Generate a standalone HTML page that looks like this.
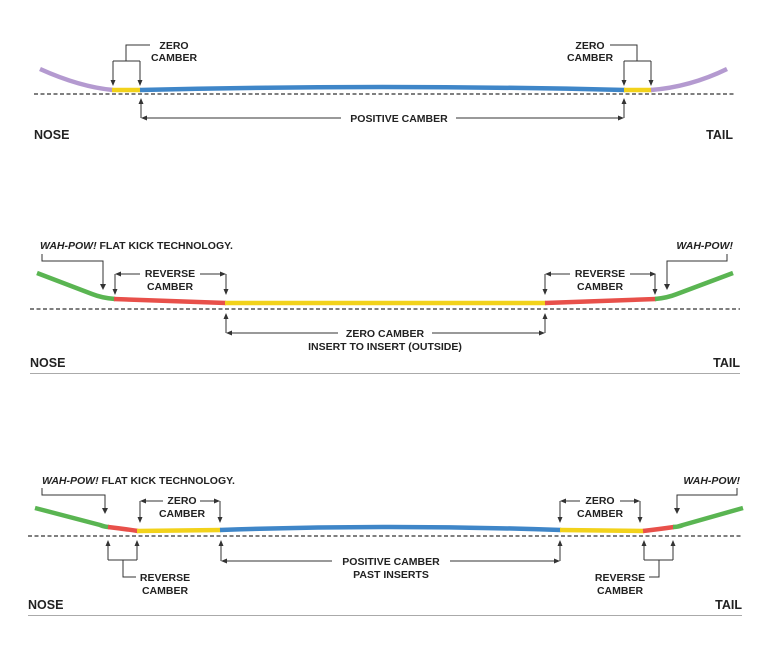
<!DOCTYPE html>
<html><head><meta charset="utf-8"><style>
html,body{margin:0;padding:0;background:#fff;}
svg{display:block;}
text{font-family:"Liberation Sans",sans-serif;font-weight:bold;font-size:10.5px;fill:#222;}
.big{font-size:12.5px;}
.ln{stroke:#333;stroke-width:1;fill:none;}
.dash{stroke:#333;stroke-width:1.3;stroke-dasharray:4,2.5;fill:none;}
.b{fill:none;stroke-width:4.5;stroke-linecap:butt;}
</style></head><body>
<svg width="777" height="648" viewBox="0 0 777 648">
<defs>
<marker id="a" markerWidth="6" markerHeight="6" refX="5" refY="3" orient="auto" markerUnits="userSpaceOnUse"><path d="M0,0.5 L6,3 L0,5.5 z" fill="#333"/></marker>
</defs>

<!-- Diagram 1 -->
<line class="dash" x1="34" y1="94" x2="735" y2="94"/>
<path class="b" stroke="#b49ad0" d="M40,69 Q80,87 113,90"/>
<path class="b" stroke="#f2d21b" d="M112,90 L141,90"/>
<path class="b" stroke="#3f86c8" d="M140,90 Q383,84 625,90"/>
<path class="b" stroke="#f2d21b" d="M624,90 L652,90"/>
<path class="b" stroke="#b49ad0" d="M651,90 Q690,87 727,69"/>
<!-- zero camber left -->
<path class="ln" d="M150,45 L126,45 L126,61"/>
<path class="ln" d="M113,61 L140,61"/>
<line class="ln" x1="113" y1="61" x2="113" y2="85" marker-end="url(#a)"/>
<line class="ln" x1="140" y1="61" x2="140" y2="85" marker-end="url(#a)"/>
<text x="174" y="49" text-anchor="middle">ZERO</text>
<text x="174" y="61" text-anchor="middle">CAMBER</text>
<!-- zero camber right -->
<path class="ln" d="M610,45 L637,45 L637,61"/>
<path class="ln" d="M624,61 L651,61"/>
<line class="ln" x1="624" y1="61" x2="624" y2="85" marker-end="url(#a)"/>
<line class="ln" x1="651" y1="61" x2="651" y2="85" marker-end="url(#a)"/>
<text x="590" y="49" text-anchor="middle">ZERO</text>
<text x="590" y="61" text-anchor="middle">CAMBER</text>
<!-- positive -->
<line class="ln" x1="141" y1="118" x2="141" y2="99" marker-end="url(#a)"/>
<line class="ln" x1="341" y1="118" x2="142" y2="118" marker-end="url(#a)"/>
<line class="ln" x1="624" y1="118" x2="624" y2="99" marker-end="url(#a)"/>
<line class="ln" x1="456" y1="118" x2="623" y2="118" marker-end="url(#a)"/>
<text x="399" y="122" text-anchor="middle">POSITIVE CAMBER</text>
<text class="big" x="34" y="139">NOSE</text>
<text class="big" x="733" y="139" text-anchor="end">TAIL</text>

<!-- Diagram 2 -->
<line class="dash" x1="30" y1="309" x2="740" y2="309"/>
<path class="b" stroke="#5ab552" d="M37,273 L92,294 Q102,298 115,299"/>
<path class="b" stroke="#e8504a" d="M114,299 L226,303"/>
<path class="b" stroke="#f2d21b" d="M225,303 L546,303"/>
<path class="b" stroke="#e8504a" d="M545,303 L656,299"/>
<path class="b" stroke="#5ab552" d="M655,299 Q667,298 677,294 L733,273"/>
<text x="40" y="249"><tspan font-style="italic">WAH-POW!</tspan> FLAT KICK TECHNOLOGY.</text>
<path class="ln" d="M42,254 L42,261 L103,261 L103,288"/>
<path d="M100,284 L103,290 L106,284z" fill="#333"/>
<line class="ln" x1="140" y1="274" x2="116" y2="274" marker-end="url(#a)"/>
<line class="ln" x1="200" y1="274" x2="225" y2="274" marker-end="url(#a)"/>
<line class="ln" x1="115" y1="274" x2="115" y2="294" marker-end="url(#a)"/>
<line class="ln" x1="226" y1="274" x2="226" y2="294" marker-end="url(#a)"/>
<text x="170" y="277" text-anchor="middle">REVERSE</text>
<text x="170" y="290" text-anchor="middle">CAMBER</text>
<line class="ln" x1="570" y1="274" x2="546" y2="274" marker-end="url(#a)"/>
<line class="ln" x1="630" y1="274" x2="655" y2="274" marker-end="url(#a)"/>
<line class="ln" x1="545" y1="274" x2="545" y2="294" marker-end="url(#a)"/>
<line class="ln" x1="655" y1="274" x2="655" y2="294" marker-end="url(#a)"/>
<text x="600" y="277" text-anchor="middle">REVERSE</text>
<text x="600" y="290" text-anchor="middle">CAMBER</text>
<text x="733" y="249" text-anchor="end" font-style="italic">WAH-POW!</text>
<path class="ln" d="M727,254 L727,261 L667,261 L667,288"/>
<path d="M664,284 L667,290 L670,284z" fill="#333"/>
<line class="ln" x1="226" y1="333" x2="226" y2="314" marker-end="url(#a)"/>
<line class="ln" x1="338" y1="333" x2="227" y2="333" marker-end="url(#a)"/>
<line class="ln" x1="545" y1="333" x2="545" y2="314" marker-end="url(#a)"/>
<line class="ln" x1="432" y1="333" x2="544" y2="333" marker-end="url(#a)"/>
<text x="385" y="337" text-anchor="middle">ZERO CAMBER</text>
<text x="385" y="350" text-anchor="middle">INSERT TO INSERT (OUTSIDE)</text>
<text class="big" x="30" y="367">NOSE</text>
<text class="big" x="740" y="367" text-anchor="end">TAIL</text>
<line x1="30" y1="373.5" x2="740" y2="373.5" stroke="#aaa" stroke-width="1"/>

<!-- Diagram 3 -->
<line class="dash" x1="28" y1="536" x2="742" y2="536"/>
<path class="b" stroke="#5ab552" d="M35,508 L100,525 Q105,527 109,527"/>
<path class="b" stroke="#e8504a" d="M108,527 Q125,529 138,531"/>
<path class="b" stroke="#f2d21b" d="M137,531 L221,530"/>
<path class="b" stroke="#3f86c8" d="M220,530 Q390,524 561,530"/>
<path class="b" stroke="#f2d21b" d="M560,530 L644,531"/>
<path class="b" stroke="#e8504a" d="M643,531 Q660,529 674,527"/>
<path class="b" stroke="#5ab552" d="M673,527 Q678,527 683,525 L743,508"/>
<text x="42" y="484"><tspan font-style="italic">WAH-POW!</tspan> FLAT KICK TECHNOLOGY.</text>
<path class="ln" d="M42,488 L42,495 L105,495 L105,512"/>
<path d="M102,508 L105,514 L108,508z" fill="#333"/>
<line class="ln" x1="163" y1="501" x2="141" y2="501" marker-end="url(#a)"/>
<line class="ln" x1="200" y1="501" x2="219" y2="501" marker-end="url(#a)"/>
<line class="ln" x1="140" y1="501" x2="140" y2="522" marker-end="url(#a)"/>
<line class="ln" x1="220" y1="501" x2="220" y2="522" marker-end="url(#a)"/>
<text x="182" y="504" text-anchor="middle">ZERO</text>
<text x="182" y="517" text-anchor="middle">CAMBER</text>
<line class="ln" x1="580" y1="501" x2="561" y2="501" marker-end="url(#a)"/>
<line class="ln" x1="620" y1="501" x2="639" y2="501" marker-end="url(#a)"/>
<line class="ln" x1="560" y1="501" x2="560" y2="522" marker-end="url(#a)"/>
<line class="ln" x1="640" y1="501" x2="640" y2="522" marker-end="url(#a)"/>
<text x="600" y="504" text-anchor="middle">ZERO</text>
<text x="600" y="517" text-anchor="middle">CAMBER</text>
<text x="740" y="484" text-anchor="end" font-style="italic">WAH-POW!</text>
<path class="ln" d="M737,488 L737,495 L677,495 L677,512"/>
<path d="M674,508 L677,514 L680,508z" fill="#333"/>
<!-- reverse left -->
<line class="ln" x1="108" y1="560" x2="108" y2="541" marker-end="url(#a)"/>
<line class="ln" x1="137" y1="560" x2="137" y2="541" marker-end="url(#a)"/>
<line class="ln" x1="108" y1="560" x2="137" y2="560"/>
<path class="ln" d="M123,560 L123,577 L136,577"/>
<text x="165" y="581" text-anchor="middle">REVERSE</text>
<text x="165" y="594" text-anchor="middle">CAMBER</text>
<!-- reverse right -->
<line class="ln" x1="644" y1="560" x2="644" y2="541" marker-end="url(#a)"/>
<line class="ln" x1="673" y1="560" x2="673" y2="541" marker-end="url(#a)"/>
<line class="ln" x1="644" y1="560" x2="673" y2="560"/>
<path class="ln" d="M659,560 L659,577 L649,577"/>
<text x="620" y="581" text-anchor="middle">REVERSE</text>
<text x="620" y="594" text-anchor="middle">CAMBER</text>
<!-- positive -->
<line class="ln" x1="221" y1="561" x2="221" y2="541" marker-end="url(#a)"/>
<line class="ln" x1="332" y1="561" x2="222" y2="561" marker-end="url(#a)"/>
<line class="ln" x1="560" y1="561" x2="560" y2="541" marker-end="url(#a)"/>
<line class="ln" x1="450" y1="561" x2="559" y2="561" marker-end="url(#a)"/>
<text x="391" y="565" text-anchor="middle">POSITIVE CAMBER</text>
<text x="391" y="578" text-anchor="middle">PAST INSERTS</text>
<text class="big" x="28" y="609">NOSE</text>
<text class="big" x="742" y="609" text-anchor="end">TAIL</text>
<line x1="28" y1="615.5" x2="742" y2="615.5" stroke="#aaa" stroke-width="1"/>
</svg>
</body></html>
